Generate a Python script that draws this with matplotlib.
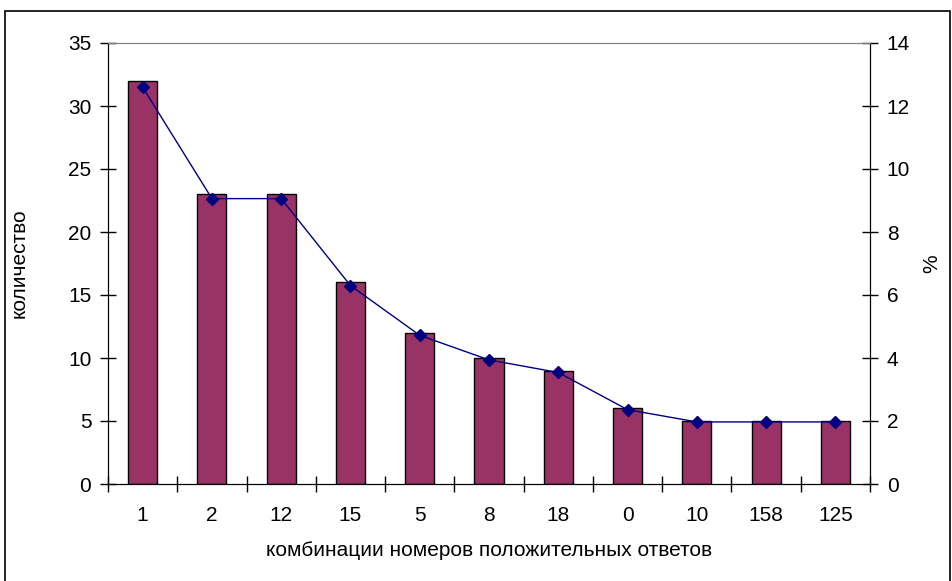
import matplotlib
matplotlib.use("Agg")
import matplotlib.pyplot as plt
from matplotlib.patches import Rectangle
import numpy as np

plt.rcParams['font.family'] = ['Liberation Sans', 'DejaVu Sans']

categories = ["1", "2", "12", "15", "5", "8", "18", "0", "10", "158", "125"]
counts = [32, 23, 23, 16, 12, 10, 9, 6, 5, 5, 5]
percents = [12.6, 9.06, 9.06, 6.30, 4.72, 3.94, 3.54, 2.36, 1.97, 1.97, 1.97]

FS = 15
fig = plt.figure(figsize=(9.53, 5.81), dpi=100)
ax = fig.add_axes([108/953, 1-484/581, (870-108)/953, (484-43)/581])
x = np.arange(len(categories))
ax.bar(x, counts, width=0.42, color="#993366", edgecolor="black", linewidth=1.0, zorder=2)
ax.set_xlim(-0.5, len(categories)-0.5)
ax.set_ylim(0, 35)
ax.set_yticks(range(0, 36, 5))
ax.set_xticks(x)
ax.set_xticklabels(categories)
ax.set_xticks(np.arange(-0.5, len(categories)), minor=True)
ax.tick_params(axis='x', which='major', length=0, pad=16, labelsize=FS)
ax.tick_params(axis='x', which='minor', direction='inout', length=12, width=1)
ax.tick_params(axis='y', direction='inout', length=12, width=1, labelsize=FS, pad=6)
ax.spines['top'].set_color('#808080')
for s in ['left', 'bottom', 'right']:
    ax.spines[s].set_color('black')
ax.set_ylabel("количество", fontsize=FS, va='center')
ax.yaxis.set_label_coords((19-108)/762, 0.5)
ax.set_xlabel("комбинации номеров положительных ответов", fontsize=FS, va='center')
ax.xaxis.set_label_coords(0.5, (484-551)/441)

ax2 = ax.twinx()
ax2.plot(x, percents, color="#000080", linewidth=1.0, marker="D", markersize=6,
         markerfacecolor="#000080", markeredgecolor="#000080", zorder=3)
ax2.set_ylim(0, 14)
ax2.set_yticks(range(0, 15, 2))
ax2.tick_params(axis='y', direction='inout', length=12, width=1, labelsize=FS, pad=6)
ax2.spines['top'].set_color('#808080')
ax2.set_ylabel("%", fontsize=FS, va='center')
ax2.yaxis.set_label_coords((932-108)/762, 0.5)

fig.patches.append(Rectangle((5/953, -0.01), 945/953, 1 - 11/581 + 0.01, transform=fig.transFigure,
                             fill=False, edgecolor='black', linewidth=1.2))

fig.savefig("out.png", dpi=100)
